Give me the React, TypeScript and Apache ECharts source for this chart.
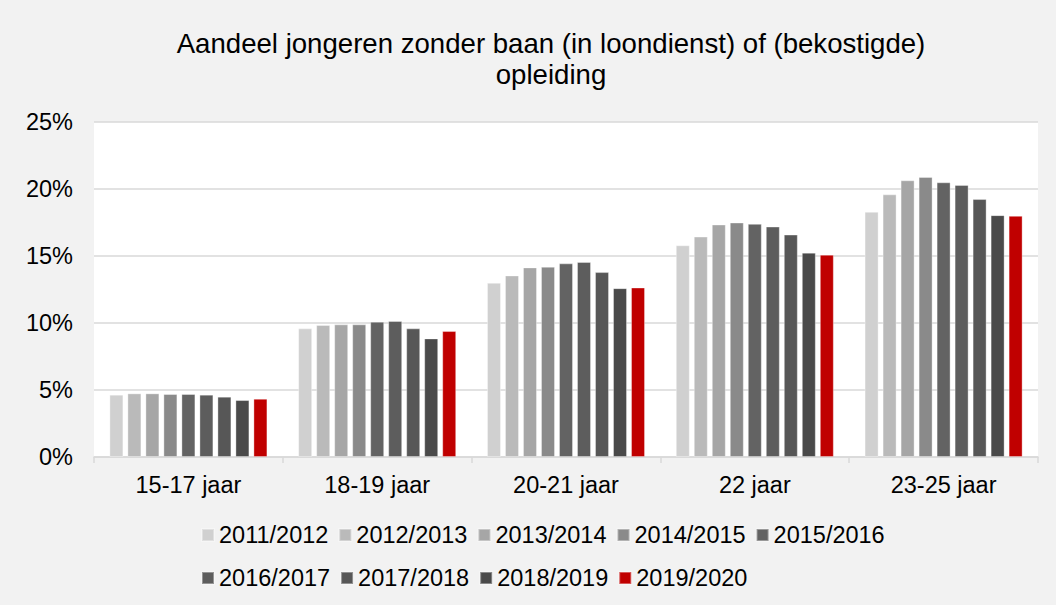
import React, { useEffect, useRef } from "react";
import * as echarts from "echarts";

const categories = ["15-17 jaar", "18-19 jaar", "20-21 jaar", "22 jaar", "23-25 jaar"];
const seriesNames = [
  "2011/2012", "2012/2013", "2013/2014", "2014/2015", "2015/2016",
  "2016/2017", "2017/2018", "2018/2019", "2019/2020",
];
const s2011 = [4.65, 9.6, 13.0, 15.8, 18.3];
const s2012 = [4.75, 9.85, 13.55, 16.45, 19.6];
const s2013 = [4.75, 9.9, 14.15, 17.35, 20.65];
const s2014 = [4.7, 9.9, 14.2, 17.5, 20.9];
const s2015 = [4.7, 10.1, 14.45, 17.4, 20.5];
const s2016 = [4.65, 10.15, 14.55, 17.2, 20.3];
const s2017 = [4.5, 9.6, 13.8, 16.6, 19.25];
const s2018 = [4.25, 8.85, 12.6, 15.25, 18.05];
const s2019 = [4.35, 9.4, 12.65, 15.1, 18.0];
const seriesValues = [s2011, s2012, s2013, s2014, s2015, s2016, s2017, s2018, s2019];
const colors = [
  "#d0d0d0", "#bababa", "#a6a6a6", "#8a8a8a", "#636363",
  "#5d5d5d", "#575757", "#4a4a4a", "#c00000",
];
const yTicks = { min: 0, max: 25, interval: 5 };

const FONT = "'Liberation Sans', Arial, sans-serif";

export default function App() {
  const ref = useRef<HTMLDivElement>(null);
  useEffect(() => {
    const chart = echarts.init(ref.current!, null, { renderer: "svg" });
    const legendCommon = {
      left: 196,
      orient: "horizontal",
      icon: "rect",
      itemWidth: 12,
      itemHeight: 12,
      itemGap: 10,
      textStyle: { fontFamily: FONT, fontSize: 23.5, color: "#000" },
    };
    chart.setOption({
      animation: false,
      backgroundColor: "#f2f2f2",
      color: colors,
      title: {
        text: "Aandeel jongeren zonder baan (in loondienst) of (bekostigde)\nopleiding",
        left: 546,
        top: 23,
        textAlign: "center",
        textStyle: {
          fontFamily: FONT,
          fontSize: 27.6,
          fontWeight: "normal",
          color: "#000",
          lineHeight: 31,
        },
      },
      legend: [
        { ...legendCommon, top: 518, data: seriesNames.slice(0, 5) },
        { ...legendCommon, top: 561, data: seriesNames.slice(5) },
      ],
      grid: {
        left: 94,
        right: 18,
        top: 122,
        bottom: 148,
        show: true,
        backgroundColor: "#ffffff",
        borderWidth: 0,
      },
      xAxis: {
        type: "category",
        data: categories,
        axisLine: { lineStyle: { color: "#d9d9d9", width: 1.5 } },
        axisTick: { show: true, length: 6, lineStyle: { color: "#d9d9d9", width: 1.5 } },
        axisLabel: { fontFamily: FONT, fontSize: 23.5, color: "#000", margin: 16 },
      },
      yAxis: {
        type: "value",
        min: yTicks.min,
        max: yTicks.max,
        interval: yTicks.interval,
        axisLine: { show: false },
        axisTick: { show: false },
        axisLabel: {
          fontFamily: FONT,
          fontSize: 23.5,
          color: "#000",
          margin: 21,
          formatter: "{value}%",
        },
        splitLine: { lineStyle: { color: "#d9d9d9", width: 1.5 } },
      },
      series: seriesNames.map((name, i) => ({
        name,
        type: "bar",
        data: seriesValues[i],
        barWidth: 14,
        barGap: "28.6%",
        itemStyle: {
          color: colors[i],
          borderColor: "rgba(255,255,255,0.35)",
          borderWidth: 1,
        },
      })),
    });
    return () => chart.dispose();
  }, []);
  return (
    <div
      ref={ref}
      style={{ position: "fixed", left: 0, top: 0, width: 1056, height: 605 }}
    />
  );
}
